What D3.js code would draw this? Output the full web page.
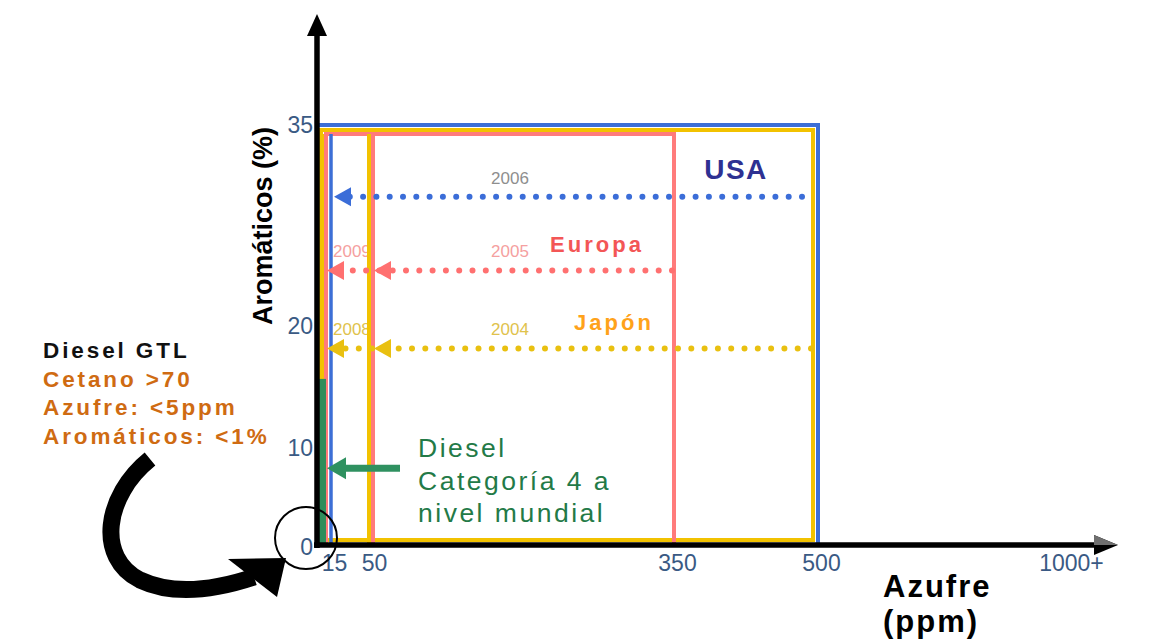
<!DOCTYPE html>
<html>
<head>
<meta charset="utf-8">
<script src="https://cdn.jsdelivr.net/npm/d3@7"></script>
<style>
  body { margin: 0; background: #fff; }
  svg { display: block; font-family: "Liberation Sans", Arial, sans-serif; }
</style>
</head>
<body>
<svg id="chart" width="1159" height="644"></svg>
<script>
// Sulfur limits (ppm) per region: first value is the earlier limit (box edge),
// the following values are the tighter limits introduced later.
const regions = ["USA", "Europa", "Japón"];
const sulfurLimits = [[500, 15], [350, 50, 10], [500, 50, 10]];
const stepYears = [[2006], [2005, 2009], [2004, 2008]];
const aromaticsMax = [35, 35, 35];
// aromatics level (%) along which each region's step arrows run
const arrowLevel = [29.5, 24, 18];

// World-wide fuel charter category 4 diesel
const cat4Sulfur = 10;
const cat4Aromatics = 15.5;
const cat4Lines = ["Diesel", "Categoría 4 a", "nivel mundial"];

const gtlTitle = "Diesel GTL";
const gtlLines = ["Cetano >70", "Azufre: <5ppm", "Aromáticos: <1%"];

const xTicks = [15, 50, 350, 500, 1000];
const xTickLabels = ["15", "50", "350", "500", "1000+"];
const yTicks = [0, 10, 20, 35];

// Schematic (piecewise) scales
const x = d3.scaleLinear()
  .domain([0, 10, 15, 50, 350, 500, 1000])
  .range([317, 324, 331, 371, 674, 818, 1068]);
const y = d3.scaleLinear()
  .domain([0, 10, 20, 35])
  .range([545, 446, 324, 123]);

// drawing styles per region (pixel nesting offsets keep coincident edges visible)
const regionStyle = [
  { color: "#3d6fd6", dot: "#3b6dd8", year: "#8e8e8e", name: "#2e3192", nameSize: 28, nameLs: 1.5, nameX: 736,
    left: 0, top: 2, right: 0, bottom: 0, line: 0, dotEnd: -16 },
  { color: "#ff7b7b", dot: "#ff7070", year: "#f5a0a0", name: "#f35656", nameSize: 22, nameLs: 3, nameX: 597,
    left: 9, top: 11, right: 0, bottom: 0, line: 2, dotEnd: -2 },
  { color: "#f2c200", dot: "#e9c010", year: "#e0c24c", name: "#ffa21a", nameSize: 22, nameLs: 3, nameX: 614,
    left: 4, top: 7, right: -5, bottom: 5, line: -2, dotEnd: -2 }
];
const drawOrder = [0, 2, 1];

const svg = d3.select("#chart");

const tipX = v => x(v) + 3;

// ---- step year labels (drawn first, limit lines pass over them)
regions.forEach((r, i) => {
  const st = regionStyle[i];
  const ly = y(arrowLevel[i]);
  sulfurLimits[i].slice(1).forEach((lim, j) => {
    svg.append("text")
      .attr("x", j === 0 ? 510 : tipX(lim) + 6)
      .attr("y", ly - 19)
      .attr("dy", "0.35em")
      .attr("text-anchor", j === 0 ? "middle" : "start")
      .attr("font-size", 17)
      .attr("fill", st.year)
      .text(stepYears[i][j]);
  });
});

// ---- region boxes
drawOrder.forEach(i => {
  const st = regionStyle[i];
  const x0 = x(0) + st.left, x1 = x(sulfurLimits[i][0]) + st.right;
  const y0 = y(aromaticsMax[i]) + st.top, y1 = y(0) - st.bottom;
  svg.append("rect")
    .attr("x", x0).attr("y", y0)
    .attr("width", x1 - x0).attr("height", y1 - y0)
    .attr("fill", "none")
    .attr("stroke", st.color)
    .attr("stroke-width", 4);
});

// ---- tighter limit lines
drawOrder.forEach(i => {
  const st = regionStyle[i];
  sulfurLimits[i].slice(1).forEach(lim => {
    svg.append("line")
      .attr("x1", x(lim) + st.line).attr("x2", x(lim) + st.line)
      .attr("y1", y(0)).attr("y2", y(aromaticsMax[i]) + regionStyle[1].top)
      .attr("stroke", st.color)
      .attr("stroke-width", i === 0 ? 3.5 : 4);
  });
});

// ---- category 4 bar
svg.append("rect")
  .attr("x", x(0))
  .attr("y", y(cat4Aromatics))
  .attr("width", x(cat4Sulfur) - x(0) + 2)
  .attr("height", y(0) - y(cat4Aromatics))
  .attr("fill", "#2f8d5a");

// ---- dotted step arrows
regions.forEach((r, i) => {
  const st = regionStyle[i];
  const ly = y(arrowLevel[i]);
  const steps = sulfurLimits[i].slice(1);
  const leftTip = d3.min(steps, tipX);
  const xr = x(sulfurLimits[i][0]) + st.right + st.dotEnd;
  svg.append("path")
    .attr("d", `M${xr},${ly}H${leftTip + 14}`)
    .attr("fill", "none")
    .attr("stroke", st.dot)
    .attr("stroke-width", 6)
    .attr("stroke-linecap", "round")
    .attr("stroke-dasharray", "0 13.3");
  steps.forEach(lim => {
    const t = tipX(lim);
    svg.append("path")
      .attr("d", `M${t},${ly}L${t + 17},${ly - 9.5}L${t + 17},${ly + 9.5}Z`)
      .attr("fill", st.dot);
  });
  // region name
  svg.append("text")
    .attr("x", st.nameX)
    .attr("y", ly - 18)
    .attr("text-anchor", "middle")
    .attr("font-size", st.nameSize)
    .attr("font-weight", "bold")
    .attr("letter-spacing", st.nameLs)
    .attr("fill", st.name)
    .text(r);
});

// ---- axes (thick black arrows)
svg.append("line")
  .attr("x1", x(0)).attr("x2", x(0))
  .attr("y1", y(0) + 3).attr("y2", 32)
  .attr("stroke", "#000").attr("stroke-width", 5.5);
svg.append("path")
  .attr("d", `M${x(0)},14L${x(0) + 10},36L${x(0) - 10},36Z`)
  .attr("fill", "#000");

svg.append("line")
  .attr("x1", x(0) - 3).attr("x2", 1100)
  .attr("y1", y(0)).attr("y2", y(0))
  .attr("stroke", "#000").attr("stroke-width", 5.5);
svg.append("path")
  .attr("d", `M1118,${y(0)}L1094,${y(0) - 10}L1094,${y(0) + 10}Z`)
  .attr("fill", "#000");
svg.append("path")
  .attr("d", `M1118,${y(0)}L1094,${y(0) - 10}L1094,${y(0)}Z`)
  .attr("fill", "#6f6f6f");

// tick labels through d3 axes
const xAxis = d3.axisBottom(x)
  .tickValues(xTicks)
  .tickFormat((d, i) => xTickLabels[i])
  .tickSize(0)
  .tickPadding(10);
svg.append("g")
  .attr("transform", `translate(3,${y(0)})`)
  .call(xAxis)
  .call(g => g.select(".domain").remove())
  .call(g => g.selectAll("text")
    .attr("font-size", 23)
    .attr("font-family", "Liberation Sans, Arial, sans-serif")
    .attr("fill", "#3a5a84"));

const yAxis = d3.axisLeft(y)
  .tickValues(yTicks)
  .tickSize(0)
  .tickPadding(3);
svg.append("g")
  .attr("transform", `translate(${x(0) - 1},2)`)
  .call(yAxis)
  .call(g => g.select(".domain").remove())
  .call(g => g.selectAll("text")
    .attr("font-size", 23)
    .attr("font-family", "Liberation Sans, Arial, sans-serif")
    .attr("fill", "#3a5a84"));

// axis titles
svg.append("text")
  .attr("transform", "translate(272,226) rotate(-90)")
  .attr("text-anchor", "middle")
  .attr("font-size", 27)
  .attr("font-weight", "bold")
  .attr("fill", "#000")
  .text("Aromáticos (%)");

svg.append("text")
  .attr("x", 883).attr("y", 597)
  .attr("font-size", 31)
  .attr("font-weight", "bold")
  .attr("letter-spacing", 2)
  .attr("fill", "#000")
  .selectAll("tspan")
  .data(["Azufre", "(ppm)"])
  .join("tspan")
  .attr("x", 883)
  .attr("dy", (d, i) => i === 0 ? 0 : 35)
  .text(d => d);

// ---- category 4 annotation
const c4y = y(cat4Aromatics / 2);
const c4tip = x(cat4Sulfur) + 3;
svg.append("line")
  .attr("x1", c4tip + 14).attr("x2", 400)
  .attr("y1", c4y).attr("y2", c4y)
  .attr("stroke", "#2f9160").attr("stroke-width", 7);
svg.append("path")
  .attr("d", `M${c4tip},${c4y}L${c4tip + 19},${c4y - 11}L${c4tip + 19},${c4y + 11}Z`)
  .attr("fill", "#2f9160");
svg.append("text")
  .attr("font-size", 26.5)
  .attr("letter-spacing", 2.5)
  .attr("fill", "#237a47")
  .selectAll("tspan")
  .data(cat4Lines)
  .join("tspan")
  .attr("x", 418)
  .attr("y", (d, i) => 457 + i * 32.5)
  .text(d => d);

// ---- GTL annotation
const gtl = svg.append("text")
  .attr("font-size", 22.5)
  .attr("font-weight", "bold")
  .attr("letter-spacing", 2.9);
gtl.append("tspan").attr("x", 43).attr("y", 358).attr("fill", "#111").text(gtlTitle);
gtlLines.forEach((t, i) => {
  gtl.append("tspan").attr("x", 43).attr("y", 386.5 + i * 28.7).attr("fill", "#cf6b12").text(t);
});

// circle around the origin and curved pointer
svg.append("circle")
  .attr("cx", 306).attr("cy", 538).attr("r", 31)
  .attr("fill", "none").attr("stroke", "#000").attr("stroke-width", 2);
svg.append("path")
  .attr("d", "M150,459 C104,496 96,558 140,580 C176,597 218,589 254,577")
  .attr("fill", "none")
  .attr("stroke", "#000")
  .attr("stroke-width", 17);
svg.append("path")
  .attr("d", "M228,559 L286,558 L277,597 Z")
  .attr("fill", "#000");
</script>
</body>
</html>
